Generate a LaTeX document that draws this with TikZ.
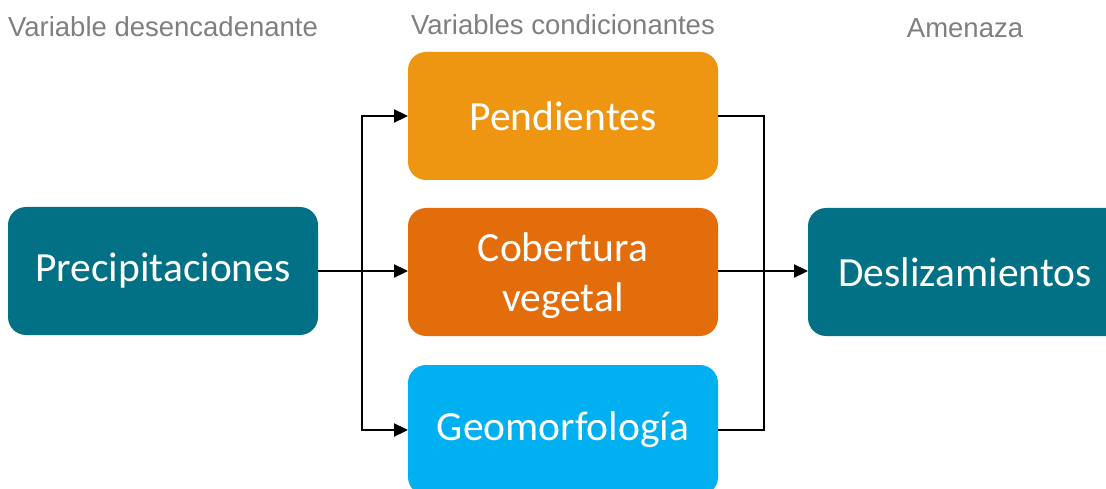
\documentclass[tikz,border=0pt]{standalone}
\usepackage{fontspec}
\setmainfont{Carlito}
\newfontfamily\labelfont{Liberation Sans}
\usetikzlibrary{arrows.meta}
\definecolor{teal}{HTML}{037185}
\definecolor{orangeA}{HTML}{EE9612}
\definecolor{orangeB}{HTML}{E36C0B}
\definecolor{cyanC}{HTML}{00B0F0}
\definecolor{grayT}{HTML}{7F7F7F}
\begin{document}
\begin{tikzpicture}[x=1pt,y=-1pt,
  box/.style={text=white, font=\fontsize{41.5}{50}\selectfont, align=center, inner sep=0pt},
  hdr/.style={text=grayT, font=\labelfont\fontsize{27.5}{32}\selectfont, inner sep=0pt},
  conn/.style={line width=2.3pt, draw=black},
  arr/.style={conn, -{Triangle[length=14pt,width=13pt]}}]
\useasboundingbox (0,0) rectangle (1106,489);
\clip (0,0) rectangle (1106,489);
\fill[teal, rounded corners=18pt] (8,207) rectangle (318,335);
\node[box] (prec) at (163,271) {Precipitaciones};
\fill[orangeA, rounded corners=18pt] (408,52) rectangle (718,180);
\node[box] (pend) at (563,116) {Pendientes};
\fill[orangeB, rounded corners=18pt] (408,208) rectangle (718,336);
\node[box] (cob) at (563,276) {Cobertura\\vegetal};
\fill[cyanC, rounded corners=18pt] (408,365) rectangle (718,495);
\node[box] (geo) at (563,430) {Geomorfología};
\fill[teal, rounded corners=18pt] (808,208) rectangle (1130,336);
\node[box] (des) at (965,272) {Deslizamientos};
\node[hdr] (h1) at (163,27) {Variable desencadenante};
\node[hdr] (h2) at (563,25) {Variables condicionantes};
\node[hdr] (h3) at (965,28) {Amenaza};
\coordinate (pL) at (318,271);
\coordinate (pendL) at (408,116);
\coordinate (cobL) at (408,271);
\coordinate (geoL) at (408,430);
\coordinate (pendR) at (718,116);
\coordinate (cobR) at (718,271);
\coordinate (geoR) at (718,430);
\coordinate (desL) at (808,271);
\draw[arr] (pL) -- (cobL);
\draw[arr] (362,271) |- (pendL);
\draw[arr] (362,271) |- (geoL);
\draw[conn] (pendR) -| (764,271);
\draw[conn] (geoR) -| (764,271);
\draw[arr] (cobR) -- (desL);
\end{tikzpicture}
\end{document}
